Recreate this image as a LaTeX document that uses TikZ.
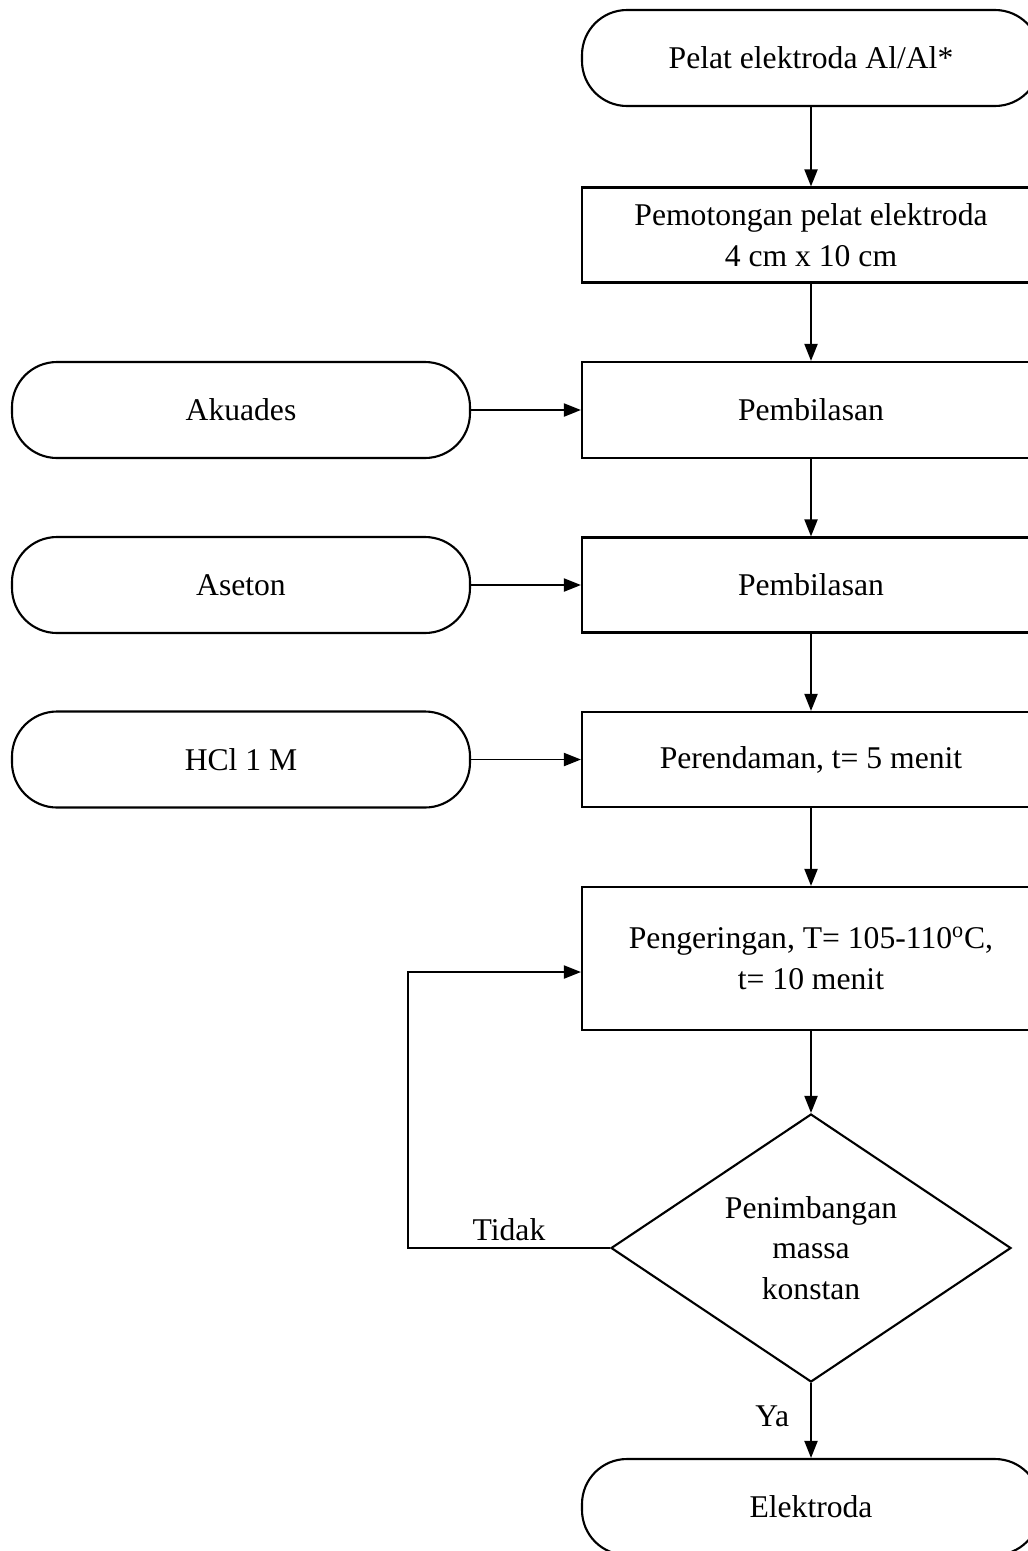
\documentclass[tikz,border=0pt]{standalone}
\usepackage{fontspec}
\setmainfont{Liberation Serif}
\usetikzlibrary{arrows.meta}
\usetikzlibrary{shapes.geometric,positioning}
\definecolor{colorOne}{HTML}{000000}
\def\colorOne{colorOne}
\tikzset{
    texte/.style={font=\fontsize{18pt}{23pt}\selectfont},
    terminal/.style={draw=\colorOne, line width=1.2pt, rounded corners=0.9cm, minimum width=9.16cm, minimum height=1.92cm, align=center, texte},
    boite/.style={draw=\colorOne, line width=1.2pt, minimum width=9.16cm, minimum height=1.9cm, align=center, texte},
    decision/.style={draw=\colorOne, diamond, aspect=1.5, line width=1.2pt, minimum width=8cm, minimum height=5.36cm, inner sep=0pt, align=center, texte},
    fleche/.style={line width=1.1pt, color=\colorOne, -{Triangle[length=0.34cm,width=0.26cm]}}
}

\begin{document}
\begin{tikzpicture}

    \useasboundingbox (0,0) rectangle (20.56,-31.02);

    % Colonne principale
    \node[terminal] (pelat) at (16.22,-1.16) {Pelat elektroda Al/Al*};
    \node[boite] (potong) at (16.22,-4.70) {Pemotongan pelat elektroda\\4 cm x 10 cm};
    \node[boite, minimum height=1.92cm] (bilas1) at (16.22,-8.20) {Pembilasan};
    \node[boite] (bilas2) at (16.22,-11.70) {Pembilasan};
    \node[boite] (rendam) at (16.22,-15.19) {Perendaman, t= 5 menit};
    \node[boite, minimum height=2.86cm] (kering) at (16.22,-19.17) {Pengeringan, T= 105-110\textsuperscript{o}C,\\t= 10 menit};
    \node[decision] (timbang) at (16.22,-24.96) {Penimbangan\\massa\\konstan};
    \node[terminal] (elektroda) at (16.22,-30.14) {Elektroda};

    % Bahan di kiri
    \node[terminal] (akuades) at (4.82,-8.20) {Akuades};
    \node[terminal] (aseton) at (4.82,-11.70) {Aseton};
    \node[terminal] (hcl) at (4.82,-15.19) {HCl 1 M};

    % Fleches
    \draw[fleche] (pelat) -- (potong);
    \draw[fleche] (potong) -- (bilas1);
    \draw[fleche] (bilas1) -- (bilas2);
    \draw[fleche] (bilas2) -- (rendam);
    \draw[fleche] (rendam) -- (kering);
    \draw[fleche] (kering) -- (timbang);
    \draw[fleche] (timbang) -- node[pos=0.45, left, texte, xshift=-0.3cm]{Ya} (elektroda);

    \draw[fleche] (akuades) -- (bilas1);
    \draw[fleche] (aseton) -- (bilas2);
    \draw[fleche] (hcl) -- (rendam);

    % Boucle "Tidak"
    \coordinate (retour) at (8.16,-19.44);
    \draw[fleche] (timbang.west) -| node[pos=0.25, above, texte]{Tidak} (retour) -- (retour -| kering.west);

\end{tikzpicture}
\end{document}
